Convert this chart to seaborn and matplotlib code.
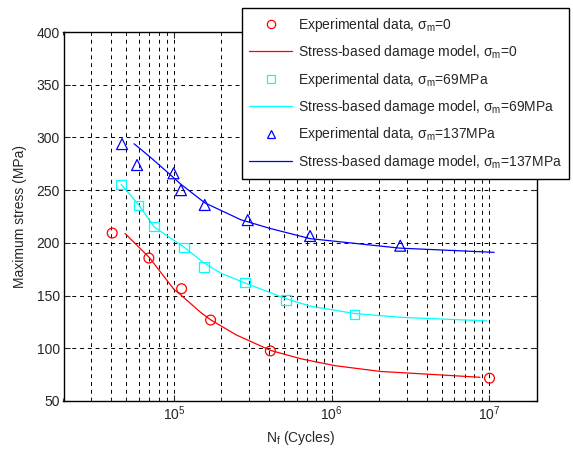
import matplotlib
matplotlib.use("Agg")
import matplotlib.pyplot as plt
import seaborn as sns
import numpy as np
import pandas as pd
from matplotlib.ticker import LogLocator, NullFormatter, MultipleLocator

# ---- Data ----
exp0_N = [4.07e4, 6.95e4, 1.12e5, 1.71e5, 4.09e5, 1.0e7]
exp0_S = [209.3, 185.6, 156.5, 126.8, 97.5, 71.6]

mod0_N = [4.9e4, 6.0e4, 7.0e4, 1.0e5, 1.1e5, 1.48e5, 1.71e5, 2.5e5, 4.1e5, 6.4e5, 1.05e6, 2.05e6, 4.0e6, 8.7e6]
mod0_S = [209, 196, 186, 156, 151, 134, 127, 112.5, 98, 90, 83.5, 78, 75.5, 72.5]

exp69_N = [4.64e4, 5.98e4, 7.51e4, 1.16e5, 1.55e5, 2.82e5, 5.14e5, 1.39e6]
exp69_S = [255.5, 235.2, 215.3, 195.7, 177.0, 162.2, 145.7, 131.8]

mod69_N = [4.64e4, 6.0e4, 7.5e4, 1.16e5, 1.55e5, 2.0e5, 2.82e5, 5.14e5, 7.3e5, 1.39e6, 2.78e6, 9.6e6]
mod69_S = [255.5, 236, 215, 196, 181, 171, 162, 147, 140, 133, 129.3, 126]

exp137_N = [4.7e4, 5.85e4, 9.96e4, 1.11e5, 1.57e5, 2.94e5, 7.3e5, 2.72e6]
exp137_S = [293.7, 273.8, 266.0, 250.0, 235.9, 221.6, 206.5, 197.3]

mod137_N = [5.6e4, 7.0e4, 9.6e4, 1.1e5, 1.57e5, 2.65e5, 4.0e5, 7.3e5, 2.7e6, 1.07e7]
mod137_S = [294, 282, 264, 256, 238, 222, 214, 204, 195, 191]

labels = [
    "Experimental data, σ$_\\mathregular{m}$=0",
    "Stress-based damage model, σ$_\\mathregular{m}$=0",
    "Experimental data, σ$_\\mathregular{m}$=69MPa",
    "Stress-based damage model, σ$_\\mathregular{m}$=69MPa",
    "Experimental data, σ$_\\mathregular{m}$=137MPa",
    "Stress-based damage model, σ$_\\mathregular{m}$=137MPa",
]
colors = ["#FF0000", "#00FFFF", "#0000FF"]
markers = ["o", "s", "^"]

sns.set_style("ticks")
plt.rcParams["font.family"] = ["Liberation Sans", "DejaVu Sans"]
plt.rcParams["mathtext.fontset"] = "custom"
plt.rcParams["mathtext.rm"] = "Liberation Sans"
plt.rcParams["font.size"] = 10

fig = plt.figure(figsize=(5.73, 4.51), dpi=100)
ax = fig.add_axes([63.5 / 573, 1 - 401 / 451, (537 - 63.5) / 573, (401 - 32) / 451])

series = [
    (exp0_N, exp0_S, mod0_N, mod0_S),
    (exp69_N, exp69_S, mod69_N, mod69_S),
    (exp137_N, exp137_S, mod137_N, mod137_S),
]
sizes = [50, 46, 62]

handles = []
for i, (eN, eS, mN, mS) in enumerate(series):
    de = pd.DataFrame({"N": eN, "S": eS})
    dm = pd.DataFrame({"N": mN, "S": mS})
    sns.scatterplot(data=de, x="N", y="S", ax=ax, marker=markers[i], s=sizes[i],
                    facecolors="none", edgecolor=colors[i], linewidth=0.9, zorder=3)
    sns.lineplot(data=dm, x="N", y="S", ax=ax, color=colors[i], linewidth=0.9,
                 estimator=None, sort=True, zorder=2)
    h1 = plt.Line2D([], [], linestyle="none", marker=markers[i], markersize=6,
                    markerfacecolor="none", markeredgecolor=colors[i], markeredgewidth=0.9)
    h2 = plt.Line2D([], [], color=colors[i], linewidth=0.9)
    handles += [h1, h2]

ax.set_xscale("log")
ax.set_xlim(2e4, 2e7)
ax.set_ylim(50, 400)
ax.yaxis.set_major_locator(MultipleLocator(50))
ax.xaxis.set_major_locator(LogLocator(base=10, numticks=10))
ax.xaxis.set_minor_locator(LogLocator(base=10, subs=np.arange(2, 10), numticks=20))
ax.xaxis.set_minor_formatter(NullFormatter())

ax.grid(True, which="major", axis="both", color="black", linestyle=(0, (4, 4)), linewidth=0.7)
ax.grid(True, which="minor", axis="x", color="black", linestyle=(0, (4, 4)), linewidth=0.7)
ax.set_axisbelow(True)

ax.tick_params(which="both", direction="in", top=True, right=True, labelsize=10, pad=2.5)
ax.tick_params(which="major", length=4)
ax.tick_params(which="minor", length=2)
for sp in ax.spines.values():
    sp.set_linewidth(1.0)
    sp.set_color("black")

ax.set_xlabel("N$_\\mathregular{f}$ (Cycles)", fontsize=10, labelpad=4)
ax.set_ylabel("Maximum stress (MPa)", fontsize=10, labelpad=7)

leg = fig.legend(handles, labels, loc="upper left",
                 bbox_to_anchor=(241.7 / 573, 1 - 8 / 451), bbox_transform=fig.transFigure,
                 fontsize=10, frameon=True, fancybox=False, framealpha=1,
                 edgecolor="black", handlelength=3.07, handletextpad=0.41,
                 borderpad=0.55, labelspacing=0.68, borderaxespad=0)
leg.get_frame().set_linewidth(1.0)

fig.savefig("out.png", dpi=100)
